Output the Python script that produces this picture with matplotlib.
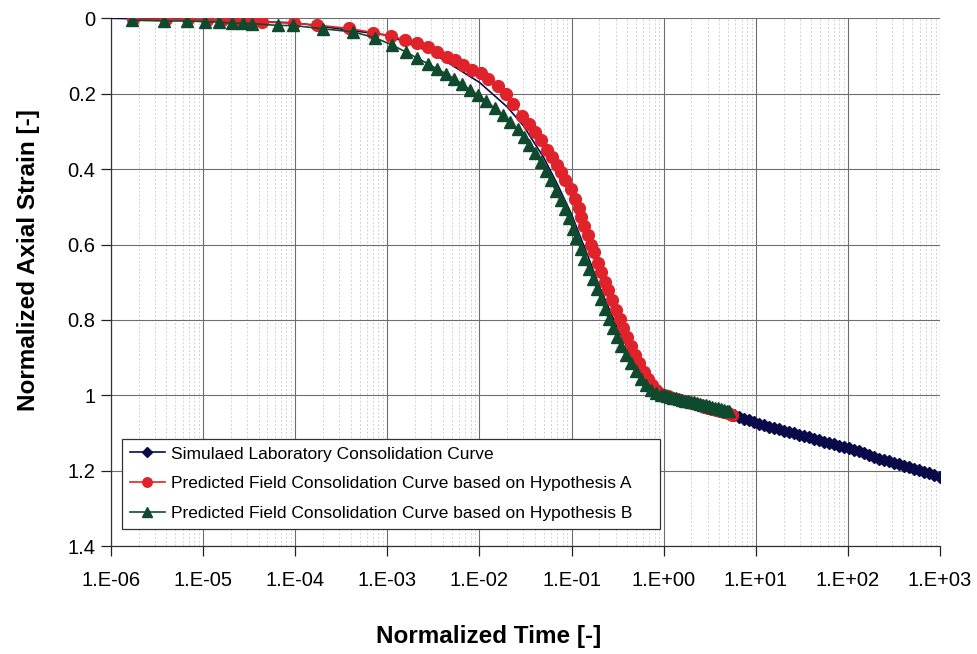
import matplotlib
matplotlib.use('Agg')
import matplotlib.pyplot as plt
from matplotlib.ticker import FixedLocator, LogLocator, NullFormatter

plt.rcParams['font.family'] = ['Liberation Sans', 'DejaVu Sans']

# simulated laboratory curve
lab_t = [1e-6, 1e-5, 1e-4, 1e-3, 3e-3, 1e-2, 2e-2, 3e-2, 5e-2, 7e-2, 0.1, 0.15,
         0.2, 0.3, 0.5, 0.7, 1.0, 2.0, 3.0, 4.0,
         5.77, 6.53, 7.41, 8.39, 9.51, 10.8, 12.2, 13.8, 15.7, 17.8, 20.2, 22.9,
         25.9, 29.3, 33.3, 37.7, 42.7, 48.4, 54.8, 62.1, 70.5, 79.8, 90.5, 103,
         116, 132, 149, 169, 192, 217, 246, 279, 316, 358, 406, 460, 521, 591,
         670, 759, 861, 1000]
lab_s = [0.0, 0.004, 0.012, 0.045, 0.09, 0.17, 0.235, 0.285, 0.37, 0.44, 0.52, 0.63,
         0.71, 0.81, 0.92, 0.97, 1.0, 1.022, 1.034, 1.043,
         1.052, 1.058, 1.062, 1.066, 1.071, 1.075, 1.079, 1.083, 1.087, 1.090, 1.094, 1.098,
         1.100, 1.104, 1.108, 1.111, 1.115, 1.119, 1.123, 1.127, 1.130, 1.134, 1.138, 1.140,
         1.145, 1.149, 1.153, 1.159, 1.164, 1.168, 1.172, 1.175, 1.179, 1.183, 1.187, 1.191,
         1.195, 1.199, 1.203, 1.207, 1.211, 1.217]

# hypothesis A
a_t = [1.73e-6, 3.96e-6, 6.87e-6, 1.10e-5, 1.61e-5, 2.17e-5, 2.79e-5, 3.49e-5, 4.38e-5,
       9.8e-5, 1.73e-4, 3.86e-4, 7.04e-4, 1.10e-3, 1.57e-3, 2.12e-3, 2.79e-3, 3.49e-3,
       4.49e-3, 5.49e-3, 6.70e-3, 8.39e-3, 1.03e-2, 1.25e-2, 1.57e-2, 1.92e-2, 2.34e-2,
       2.93e-2, 3.41e-2, 3.96e-2, 4.60e-2, 5.35e-2, 6.06e-2, 6.87e-2, 7.59e-2, 8.39e-2,
       9.75e-2, 0.108, 0.119, 0.128, 0.138, 0.149, 0.161, 0.173, 0.192, 0.207, 0.229,
       0.246, 0.272, 0.301, 0.333, 0.358, 0.396, 0.438, 0.484, 0.535, 0.606, 0.670,
       0.741, 0.819, 0.883, 1.0,
       1.10, 1.22, 1.35, 1.49, 1.65, 1.82, 2.01, 2.23, 2.46, 2.72, 3.01, 3.32,
       3.67, 4.06, 4.48, 4.96, 5.48]
a_s = [0.002, 0.002, 0.003, 0.005, 0.005, 0.007, 0.007, 0.007, 0.010,
       0.013, 0.018, 0.027, 0.038, 0.047, 0.058, 0.066, 0.077, 0.089,
       0.102, 0.111, 0.124, 0.136, 0.145, 0.161, 0.180, 0.201, 0.228,
       0.260, 0.281, 0.302, 0.324, 0.348, 0.369, 0.388, 0.409, 0.430,
       0.454, 0.478, 0.502, 0.526, 0.552, 0.576, 0.600, 0.621, 0.648, 0.672, 0.699,
       0.720, 0.746, 0.773, 0.797, 0.821, 0.845, 0.869, 0.893, 0.914, 0.938, 0.957,
       0.973, 0.986, 0.994, 1.0,
       1.003, 1.006, 1.009, 1.012, 1.015, 1.018, 1.021, 1.024, 1.027, 1.030, 1.033, 1.036,
       1.039, 1.042, 1.045, 1.048, 1.051]

# hypothesis B
b_t = [1.69e-6, 3.77e-6, 6.70e-6, 1.05e-5, 1.49e-5, 2.07e-5, 2.72e-5, 3.41e-5, 6.53e-5,
       9.51e-5, 2.02e-4, 4.27e-4, 7.41e-4, 1.13e-3, 1.61e-3, 2.12e-3, 2.79e-3, 3.49e-3,
       4.38e-3, 5.35e-3, 6.53e-3, 7.98e-3, 9.75e-3, 1.19e-2, 1.46e-2, 1.78e-2, 2.17e-2,
       2.59e-2, 3.01e-2, 3.49e-2, 3.96e-2, 4.60e-2, 5.21e-2, 5.91e-2, 6.70e-2, 7.59e-2,
       8.39e-2, 9.27e-2, 0.103, 0.113, 0.125, 0.138, 0.153, 0.169, 0.187, 0.207, 0.229,
       0.252, 0.279, 0.308, 0.341, 0.386, 0.438, 0.496, 0.562, 0.637, 0.722, 0.819,
       0.93, 1.0,
       1.078, 1.162, 1.253, 1.350, 1.455, 1.568, 1.690, 1.822, 1.964, 2.117, 2.282,
       2.460, 2.651, 2.858, 3.080, 3.320, 3.579, 3.857, 4.158, 4.482, 4.831, 5.09]
b_s = [0.005, 0.007, 0.007, 0.009, 0.010, 0.013, 0.013, 0.014, 0.019,
       0.019, 0.028, 0.036, 0.052, 0.071, 0.090, 0.106, 0.121, 0.135,
       0.148, 0.161, 0.175, 0.191, 0.204, 0.220, 0.239, 0.257, 0.276,
       0.294, 0.316, 0.337, 0.358, 0.382, 0.406, 0.430, 0.457, 0.483,
       0.507, 0.531, 0.558, 0.584, 0.611, 0.638, 0.664, 0.691, 0.717, 0.744, 0.771,
       0.797, 0.821, 0.845, 0.869, 0.893, 0.914, 0.935, 0.957, 0.973, 0.986, 0.994,
       0.998, 1.0,
       1.002, 1.004, 1.006, 1.008, 1.010, 1.012, 1.014, 1.016, 1.017, 1.019, 1.021,
       1.023, 1.025, 1.027, 1.029, 1.031, 1.033, 1.035, 1.037, 1.039, 1.041, 1.042]

y_ticks = [0, 0.2, 0.4, 0.6, 0.8, 1.0, 1.2, 1.4]
y_labels = ['0', '0.2', '0.4', '0.6', '0.8', '1', '1.2', '1.4']
x_ticks = [1e-6, 1e-5, 1e-4, 1e-3, 1e-2, 1e-1, 1e0, 1e1, 1e2, 1e3]
x_labels = ['1.E-06', '1.E-05', '1.E-04', '1.E-03', '1.E-02', '1.E-01',
            '1.E+00', '1.E+01', '1.E+02', '1.E+03']

navy = '#0a0a4a'
red = '#e0222a'
green = '#0f4a2e'

fig = plt.figure(figsize=(9.77, 6.54), dpi=100)
ax = fig.add_axes([0.1136, 0.165, 0.8486, 0.807])

first_mark = lab_t.index(5.77)
ax.plot(lab_t, lab_s, color=navy, lw=1.2, marker='D', ms=6.5, mfc=navy, mec=navy,
        markevery=list(range(first_mark, len(lab_t))),
        label='Simulaed Laboratory Consolidation Curve', zorder=3)
ax.plot(a_t, a_s, color=red, lw=1.2, marker='o', ms=8.5, mfc=red, mec=red,
        label='Predicted Field Consolidation Curve based on Hypothesis A', zorder=4)
ax.plot(b_t, b_s, color=green, lw=1.2, marker='^', ms=8.5, mfc=green, mec=green,
        label='Predicted Field Consolidation Curve based on Hypothesis B', zorder=5)

ax.set_xscale('log')
ax.set_xlim(1e-6, 1e3)
ax.set_ylim(1.4, 0)

ax.xaxis.set_major_locator(FixedLocator(x_ticks))
ax.set_xticklabels(x_labels)
ax.xaxis.set_minor_locator(LogLocator(base=10, subs=range(2, 10), numticks=100))
ax.xaxis.set_minor_formatter(NullFormatter())
ax.set_yticks(y_ticks)
ax.set_yticklabels(y_labels)

ax.grid(which='major', axis='both', color='#6e6e6e', lw=0.8)
ax.grid(which='minor', axis='x', color='#d2d2d2', lw=0.7, ls=(0, (2, 2)))
ax.set_axisbelow(True)

ax.tick_params(axis='x', which='major', direction='out', length=7, width=0.9,
               labelsize=14.5, pad=11, colors='#222222')
ax.tick_params(axis='x', which='minor', length=0)
ax.tick_params(axis='y', direction='out', length=7, width=0.9, labelsize=14.5,
               pad=4, colors='#222222')
for lbl in ax.get_xticklabels() + ax.get_yticklabels():
    lbl.set_color('black')

for side in ['top', 'right']:
    ax.spines[side].set_visible(False)
for side in ['bottom', 'left']:
    ax.spines[side].set_color('#333333')
    ax.spines[side].set_linewidth(0.9)

fig.text(0.5, 1 - 636 / 654, 'Normalized Time [-]', ha='center', va='center',
         fontsize=17.5, fontweight='bold')
fig.text(29 / 977, 1 - 260 / 654, 'Normalized Axial Strain [-]', ha='center',
         va='center', rotation=90, fontsize=17.5, fontweight='bold')

leg = ax.legend(loc='lower left', bbox_to_anchor=(0.0133, 0.032, 0.649, 0.18),
                mode='expand', borderaxespad=0,
                fontsize=12.5, frameon=True, fancybox=False, framealpha=1,
                edgecolor='#333333', labelspacing=0.85, handlelength=2.0,
                handletextpad=0.35, borderpad=0.45, markerscale=0.8)
leg.get_frame().set_linewidth(0.9)
leg.set_zorder(10)

fig.savefig('out.png', dpi=100)
